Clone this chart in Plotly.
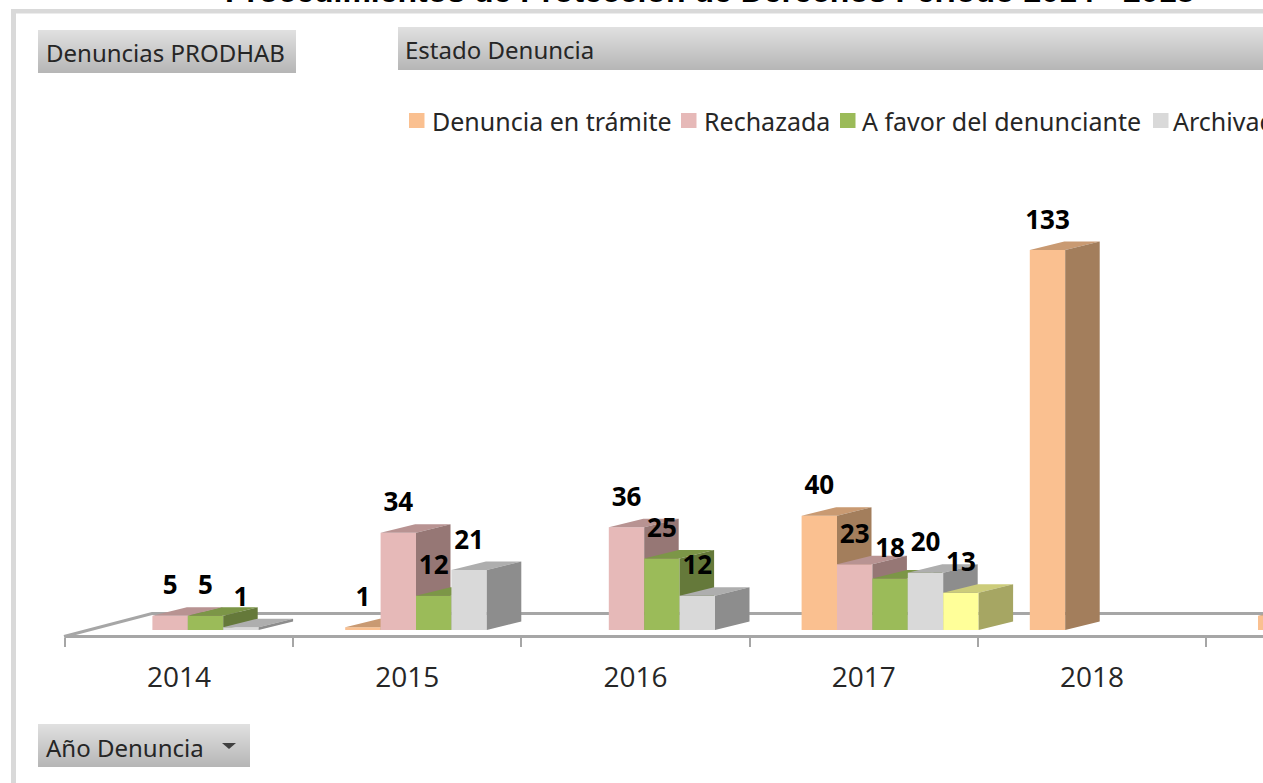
import plotly.graph_objects as go

# ---------- data ----------
years = ["2014", "2015", "2016", "2017", "2018", ""]
series_names = ["Denuncia en trámite", "Rechazada", "A favor del denunciante", "Archivada", "Otro estado"]
en_tramite = [0, 1, 0, 40, 133, 5]
rechazada = [5, 34, 36, 23, 0, 0]
a_favor = [5, 12, 25, 18, 0, 0]
archivada = [1, 21, 12, 20, 0, 0]
otro = [0, 0, 0, 13, 0, 0]
all_series = [en_tramite, rechazada, a_favor, archivada, otro]

front_colors = ["#FAC090", "#E6B9B8", "#9BBB59", "#D9D9D9", "#FFFF99"]
side_colors = ["#A37E5C", "#967775", "#65793A", "#8D8D8D", "#A6A663"]
top_colors = ["#C99A72", "#B89392", "#7C9647", "#AEAEAE", "#CCCC7A"]

# ---------- layout constants (pixels of the 1263x783 page) ----------
W, H = 1263, 783
CAT_PX = 228.2
X0_PX = 65
Y0_PX = 630
PX_PER_UNIT = 2.857
BAR_PX = 35.4
GROUP_START_PX = 52
DEPTH_X_PX = 34.5
DEPTH_Y_PX = 8.5
LABEL_PX = 28

bar_w = BAR_PX / CAT_PX
start = GROUP_START_PX / CAT_PX
dx = DEPTH_X_PX / CAT_PX
dy = DEPTH_Y_PX / PX_PER_UNIT
x_range = [0, (W - X0_PX) / CAT_PX]
y_range = [-(H - Y0_PX) / PX_PER_UNIT, Y0_PX / PX_PER_UNIT]


def px(x):
    return x / W


def py(y):
    return 1 - y / H


fig = go.Figure()


def axis_suffix(n):
    return "" if n == 1 else str(n)


for s, values in enumerate(all_series):
    n = s + 1
    xa, ya = "x" + axis_suffix(n), "y" + axis_suffix(n)
    lefts = [i + start + s * bar_w for i in range(len(values))]
    fig.add_trace(go.Bar(
        x=[l + bar_w / 2 for l in lefts], y=values, width=bar_w,
        name=series_names[s], marker=dict(color=front_colors[s], line=dict(width=0)),
        showlegend=False, xaxis=xa, yaxis=ya,
    ))
    top_x, top_y, side_x, side_y = [], [], [], []
    for l, v in zip(lefts, values):
        if v == 0:
            continue
        r = l + bar_w
        top_x += [l, r, r + dx, l + dx, l, None]
        top_y += [v, v, v + dy, v + dy, v, None]
        side_x += [r, r + dx, r + dx, r, r, None]
        side_y += [0, dy, v + dy, v, 0, None]
    fig.add_trace(go.Scatter(x=top_x, y=top_y, mode="lines", fill="toself", fillcolor=top_colors[s],
                             line=dict(width=0), hoverinfo="skip", showlegend=False, xaxis=xa, yaxis=ya))
    fig.add_trace(go.Scatter(x=side_x, y=side_y, mode="lines", fill="toself", fillcolor=side_colors[s],
                             line=dict(width=0), hoverinfo="skip", showlegend=False, xaxis=xa, yaxis=ya))

# data labels, above every bar (the cropped last category shows none)
lab_x, lab_y, lab_t = [], [], []
for s, values in enumerate(all_series):
    for i, v in enumerate(values):
        if v and years[i]:
            lab_x.append(i + start + s * bar_w + bar_w / 2)
            lab_y.append(v + LABEL_PX / PX_PER_UNIT)
            lab_t.append(str(v))
fig.add_trace(go.Scatter(x=lab_x, y=lab_y, text=lab_t, mode="text", textposition="middle center",
                         textfont=dict(family="Open Sans", size=26, color="#000000"),
                         texttemplate="<b>%{text}</b>", hoverinfo="skip", showlegend=False,
                         xaxis="x5", yaxis="y5"))

# ---------- axes ----------
LINE = "#A6A6A6"
dom = [X0_PX / W, 1]
layout_axes = {}
for n in range(1, 6):
    sfx = axis_suffix(n)
    layout_axes["xaxis" + sfx] = dict(domain=dom, range=x_range, visible=False, anchor="y" + sfx,
                                      showgrid=False, zeroline=False, fixedrange=True)
    layout_axes["yaxis" + sfx] = dict(domain=[0, 1], range=y_range, visible=False, anchor="x" + sfx,
                                      showgrid=False, zeroline=False, fixedrange=True)
    if n > 1:
        layout_axes["xaxis" + sfx]["overlaying"] = "x"
        layout_axes["yaxis" + sfx]["overlaying"] = "y"

# front floor edge with ticks on the category boundaries
layout_axes["xaxis"].update(
    visible=True, anchor="free", position=py(636), showline=True, linecolor=LINE, linewidth=3,
    tickmode="array", tickvals=list(range(len(years) + 1)), ticktext=[""] * (len(years) + 1),
    ticks="outside", ticklen=9, tickwidth=2, tickcolor=LINE,
)
# category names centred between the boundaries
layout_axes["xaxis2"].update(
    visible=True, anchor="free", position=py(658), showline=False, ticks="",
    tickmode="array", tickvals=[i + 0.5 for i in range(len(years))], ticktext=years,
    tickfont=dict(family="Open Sans", size=28, color="#262626"),
)

# ---------- chrome: frame, pivot buttons, floor, legend ----------
shapes = []


def rect(x0, y0, x1, y1, color):
    shapes.append(dict(type="rect", xref="paper", yref="paper", x0=px(x0), x1=px(x1), y0=py(y0), y1=py(y1),
                       fillcolor=color, line=dict(width=0), layer="below"))


def button(x0, y0, x1, y1):
    steps = int(y1 - y0)
    for k in range(steps):
        t = k / max(steps - 1, 1)
        g = round(0xE0 + (0xB6 - 0xE0) * t)
        rect(x0, y0 + k, x1, y0 + k + 1, f"rgb({g},{g},{g})")


rect(11, 9, W, 13.5, "#D9D9D9")
rect(11, 9, 16, H, "#D9D9D9")
button(38, 30, 296, 73)
button(398, 27, W, 70)
button(38, 724, 250, 767)

shapes.append(dict(type="path", xref="paper", yref="paper", layer="above", fillcolor="#404040",
                   line=dict(width=0),
                   path=f"M {px(222)} {py(743)} L {px(236)} {py(743)} L {px(229)} {py(749)} Z"))
shapes.append(dict(type="path", xref="paper", yref="paper", layer="below", line=dict(color=LINE, width=3),
                   path=f"M {px(64)} {py(636.5)} L {px(152)} {py(613.5)} L {px(W)} {py(613.5)}"))

legend_pos = [(409, 430), (681, 702), (840, 860), (1153, 1171)]
for (sq, _), c in zip(legend_pos, front_colors):
    rect(sq, 113, sq + 15.5, 128, c)

annotations = []


def label(text, x, y, size, family="Noto Sans", color="#262626", anchor="left", bold=False):
    annotations.append(dict(text=f"<b>{text}</b>" if bold else text, xref="paper", yref="paper",
                            x=px(x), y=py(y), xanchor=anchor, yanchor="middle", showarrow=False,
                            font=dict(family=family, size=size, color=color)))


for (_, tx), name in zip(legend_pos, series_names):
    label(name, tx, 121, 25)
label("Denuncias PRODHAB", 44, 53, 24)
label("Estado Denuncia", 403, 50, 24)
label("Año Denuncia", 44, 747, 24)
label("Procedimientos de Protección de Derechos Período 2014 - 2018", 709, -8.5, 32,
      family="Liberation Sans", color="#000000", anchor="center", bold=True)

fig.update_layout(
    width=W, height=H, autosize=False, margin=dict(l=0, r=0, t=0, b=0),
    paper_bgcolor="#FFFFFF", plot_bgcolor="rgba(0,0,0,0)", barmode="overlay",
    showlegend=False, shapes=shapes, annotations=annotations, **layout_axes,
)

fig.write_html("out.html", config=dict(displayModeBar=False),
               post_script="document.body.style.margin='0';document.documentElement.style.overflow='hidden';")
